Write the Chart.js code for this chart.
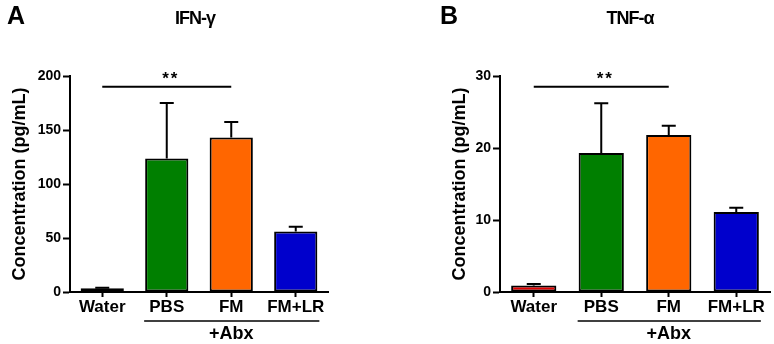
<!DOCTYPE html>
<html><head><meta charset="utf-8">
<script src="https://cdn.jsdelivr.net/npm/chart.js@4.4.0/dist/chart.umd.min.js"></script>
<style>
html,body{margin:0;padding:0;background:#fff;}
#wrap{position:relative;width:774px;height:344px;overflow:hidden;font-family:'Liberation Sans',Arial,sans-serif;background:#fff;}
.cv{position:absolute;top:0;width:387px;height:344px;}
.lbl{position:absolute;font-weight:bold;white-space:nowrap;color:#000;}
.ttl{position:absolute;font-weight:bold;white-space:nowrap;color:#000;font-size:18px;line-height:18px;letter-spacing:-1px;transform:translateX(-50%);}
</style></head><body>
<div id="wrap">
  <div class="cv" style="left:0"><canvas id="cA"></canvas></div>
  <div class="cv" style="left:387px"><canvas id="cB"></canvas></div>
  <div class="lbl" style="left:7px;top:3px;font-size:25px;line-height:25px">A</div>
  <div class="lbl" style="left:440px;top:3px;font-size:25px;line-height:25px">B</div>
  <div class="ttl" style="left:195px;top:9px">IFN-γ</div>
  <div class="ttl" style="left:630px;top:9px">TNF-α</div>
</div>
<script>
const categories = ['Water', 'PBS', 'FM', 'FM+LR'];
const ifnMeans  = [3.5, 123.5, 143, 56];
const ifnErrors = [0.5, 51.5, 14.5, 4.5];
const tnfMeans  = [0.9, 19.3, 21.8, 11.1];
const tnfErrors = [0.2, 6.9, 1.3, 0.6];
const barColors = ['#e00000', '#007f00', '#ff6600', '#0000cc'];
const ifnAxis = { max: 200, step: 50 };
const tnfAxis = { max: 30, step: 10 };
const ifnSigLevel = 190;
const tnfSigLevel = 28.5;
const sigLabel = '**';
const sigFrom = 0, sigTo = 2;
const groupLabel = '+Abx';
const groupFrom = 1, groupTo = 3, groupCenter = 2;
const yTitle = 'Concentration (pg/mL)';
const FONT = "'Liberation Sans', Arial, sans-serif";

const annotate = {
  id: 'annotate',
  afterDatasetsDraw(chart, args, opts) {
    const ctx = chart.ctx;
    const x = chart.scales.x, y = chart.scales.y;
    const meta = chart.getDatasetMeta(0);
    const errs = opts.errors;
    const means = chart.data.datasets[0].data;
    ctx.save();
    ctx.strokeStyle = '#000';
    ctx.lineWidth = 2;
    ctx.lineCap = 'butt';
    means.forEach((m, i) => {
      const px = meta.data[i].x;
      const top = y.getPixelForValue(m);
      const e = y.getPixelForValue(m + errs[i]);
      ctx.beginPath();
      ctx.moveTo(px, top);
      ctx.lineTo(px, e);
      ctx.moveTo(px - 7, e);
      ctx.lineTo(px + 7, e);
      ctx.stroke();
    });
    const sy = y.getPixelForValue(opts.sigLevel);
    ctx.beginPath();
    ctx.moveTo(x.getPixelForValue(sigFrom), sy);
    ctx.lineTo(x.getPixelForValue(sigTo), sy);
    ctx.stroke();
    ctx.fillStyle = '#000';
    ctx.font = 'bold 17px ' + FONT;
    ctx.textAlign = 'center';
    ctx.textBaseline = 'alphabetic';
    try { ctx.letterSpacing = '2px'; } catch (e) {}
    ctx.fillText(sigLabel, (x.getPixelForValue(sigFrom) + x.getPixelForValue(sigTo)) / 2 + 4, sy - 3);
    try { ctx.letterSpacing = '0px'; } catch (e) {}
    const b1 = meta.data[groupFrom], b2 = meta.data[groupTo];
    const gy = chart.chartArea.bottom + 29;
    ctx.lineWidth = 1.5;
    ctx.beginPath();
    ctx.moveTo(b1.x - b1.width / 2 - 1, gy);
    ctx.lineTo(b2.x + b2.width / 2 + 2, gy);
    ctx.stroke();
    ctx.font = 'bold 18px ' + FONT;
    ctx.textBaseline = 'middle';
    ctx.fillText(groupLabel, meta.data[groupCenter].x, gy + 13);
    ctx.restore();
  }
};

function makeChart(id, means, errs, axis, sigLevel, padRight, yWidth, titlePad) {
  return new Chart(document.getElementById(id), {
    type: 'bar',
    data: {
      labels: categories,
      datasets: [{
        data: means,
        backgroundColor: barColors,
        borderColor: '#000',
        borderWidth: 2,
        borderSkipped: false,
        barPercentage: 0.67,
        categoryPercentage: 1.0
      }]
    },
    options: {
      responsive: true,
      maintainAspectRatio: false,
      animation: false,
      devicePixelRatio: 1,
      layout: { padding: { left: 0, top: 76, right: padRight, bottom: 12 } },
      plugins: {
        legend: { display: false },
        tooltip: { enabled: false },
        annotate: { errors: errs, sigLevel: sigLevel }
      },
      scales: {
        x: {
          offset: true,
          grid: { offset: false, drawOnChartArea: false, drawTicks: true, tickLength: 5, tickWidth: 2, tickColor: '#000' },
          border: { display: true, color: '#000', width: 2 },
          ticks: { color: '#000', padding: 0, font: { family: FONT, size: 17, weight: 'bold' }, maxRotation: 0, autoSkip: false },
          afterFit(s) { s.height = 40; }
        },
        y: {
          min: 0, max: axis.max,
          grid: { drawOnChartArea: false, drawTicks: true, tickLength: 7, tickWidth: 2, tickColor: '#000' },
          border: { display: true, color: '#000', width: 2 },
          ticks: { stepSize: axis.step, color: '#000', padding: 2, font: { family: FONT, size: 14, weight: 'bold' } },
          title: { display: true, text: yTitle, color: '#000', padding: { top: titlePad, bottom: 0 }, font: { family: FONT, size: 18, weight: 'bold' } },
          afterFit(s) { s.width = yWidth; }
        }
      }
    },
    plugins: [annotate]
  });
}

makeChart('cA', ifnMeans, ifnErrors, ifnAxis, ifnSigLevel, 59, 70, 9);
makeChart('cB', tnfMeans, tnfErrors, tnfAxis, tnfSigLevel, 4, 113, 62);
</script>
</body></html>
